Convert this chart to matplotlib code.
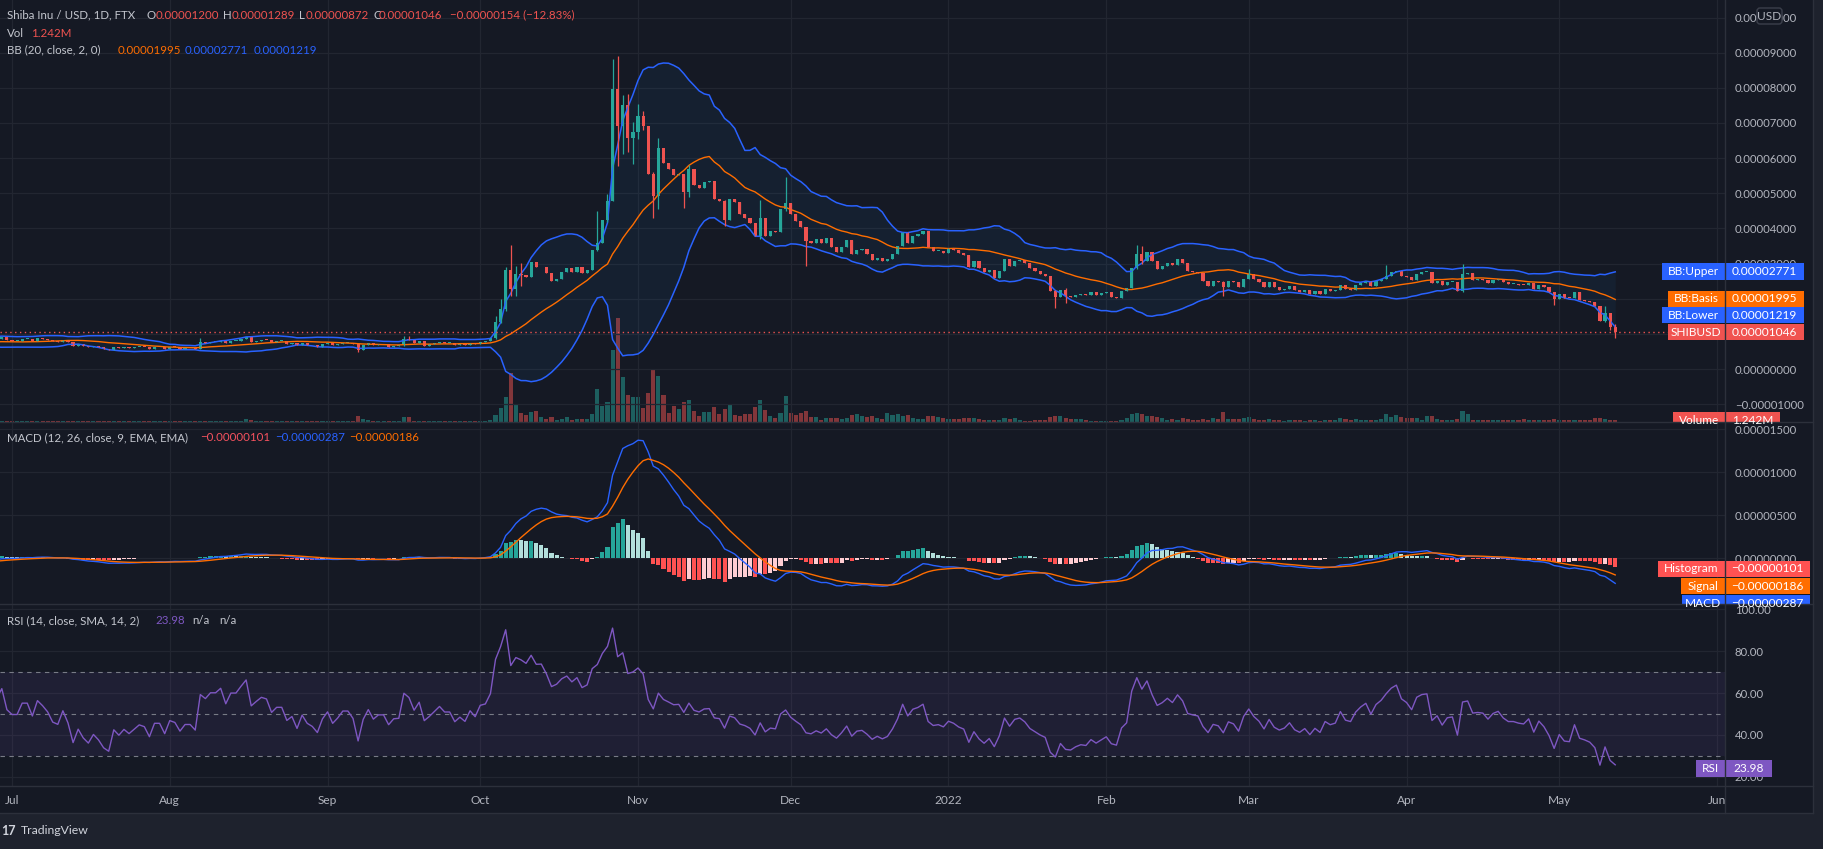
import numpy as np
import pandas as pd
import matplotlib
matplotlib.use("Agg")
import matplotlib.pyplot as plt
import matplotlib.dates as mdates
from matplotlib.patches import Rectangle, FancyBboxPatch

plt.rcParams['font.family'] = ['Lato', 'DejaVu Sans']

# SHIB/USD daily closes on FTX, in 1e-8 USD
# closes before the visible window, only used to warm up the indicators
warmup_close = [880, 860, 820, 790, 830, 850, 870, 900, 860, 830,
                850, 870, 890, 920, 900, 880, 870, 890, 880, 860,
                850, 870, 860, 840, 850, 830, 800, 780, 760, 740,
                730, 700, 650, 620, 660, 700, 760, 800, 830, 860]

# 2021-06-29 .. 2022-05-12
close = [905, 830, 810, 810, 857, 857, 810, 876, 857, 833,
         790, 780, 833, 780, 667, 724, 667, 630, 667, 630,
         571, 543, 638, 600, 628, 600, 620, 640, 630, 571,
         630, 630, 571, 630, 620, 571, 600, 600, 571, 760,
         740, 780, 780, 810, 740, 810, 810, 857, 905, 780,
         810, 838, 830, 760, 790, 790, 720, 740, 670, 740,
         690, 670, 630, 700, 740, 670, 700, 740, 740, 700,
         543, 670, 740, 670, 700, 700, 630, 667, 670, 857,
         830, 745, 810, 667, 700, 740, 780, 740, 740, 670,
         700, 670, 740, 700,
         780, 790, 870, 1340, 1710, 2810, 2280, 2710, 2670, 2610,
         3050, 2890, 2900, 2730, 2490, 2570, 2760, 2860, 2760, 2900,
         2730, 2810, 3400, 3590, 4230, 4790, 7970, 6910, 7510, 6560,
         6730, 7190, 6920, 5540, 4920, 6290, 5860, 5690, 5510, 5540,
         5040, 5690, 5240, 5140, 5330, 5350, 4830, 4790, 4230, 4850,
         4750, 4400, 4310, 4160, 3780, 4290, 3780, 3940, 3900, 4540,
         4730, 4400, 4210, 4040, 3640, 3590, 3690, 3590, 3720, 3470,
         3320, 3470, 3660, 3260, 3400, 3420, 3280, 3090, 3160, 3070,
         3120, 3280, 3510, 3900, 3590, 3780, 3830, 3920, 3470, 3350,
         3370, 3310, 3430, 3380, 3290, 3240, 2890, 3080, 2880, 2750,
         2830, 2590, 2780, 3140, 2930, 3080, 3110, 3020, 2860, 2780,
         2700, 2640, 2210, 2040, 2260, 2070, 2050, 2100, 2130, 2110,
         2190, 2110, 2150, 2190, 2050, 2020, 2230, 2300, 2880, 3260,
         3070, 3320, 3070, 2850, 2920, 3030, 2950, 3140, 3030, 2780,
         2750, 2730, 2510, 2370, 2510, 2480, 2330, 2510, 2470, 2320,
         2570, 2710, 2570, 2480, 2320, 2480, 2320, 2260, 2290, 2370,
         2240, 2190, 2240, 2130, 2210, 2140, 2280, 2230, 2250, 2400,
         2280, 2260, 2380, 2450, 2500, 2370, 2500, 2560, 2660, 2750,
         2800, 2660, 2620, 2540, 2710, 2750, 2760, 2450, 2510, 2380,
         2470, 2480, 2210, 2710, 2730, 2540, 2550, 2540, 2450, 2530,
         2560, 2470, 2420, 2420, 2400, 2390, 2440, 2280, 2390, 2320,
         2200, 1990, 2130, 2020, 2010, 2190, 1970, 1940, 1900, 1800,
         1380, 1590, 1200, 1046]

# daily volume, millions
volume = [1, 1, 0.15, 0.15, 0.15, 0.15, 0.15, 0.15, 0.15, 0.15,
          0.15, 0.15, 0.15, 0.15, 0.15, 0.15, 0.15, 0.15, 0.15, 0.15,
          0.15, 0.15, 0.15, 0.15, 0.15, 0.15, 0.15, 0.15, 0.15, 0.15,
          0.15, 0.15, 0.15, 0.15, 0.15, 0.15, 0.15, 0.15, 0.15, 1,
          1, 1, 1, 1, 1, 1, 1, 1, 3, 2,
          1, 1, 1, 1, 1, 1, 1, 1, 1, 1,
          0.15, 0.15, 1, 1, 1, 1, 1, 1, 1, 1,
          6, 3, 2, 1, 1, 1, 1, 1, 1, 5,
          5, 1, 1, 1, 1, 1, 1, 1, 0.15, 0.15,
          0.15, 0.15, 0.15, 0.15,
          1, 1, 2, 7, 14, 25, 49, 18, 9, 7,
          10, 11, 5, 3, 5, 2, 3, 5, 2, 3,
          3, 3, 8, 33, 16, 20, 72, 104, 45, 27,
          25, 25, 14, 29, 52, 46, 27, 9, 16, 13,
          20, 22, 11, 6, 10, 10, 15, 8, 13, 17,
          7, 6, 8, 8, 15, 22, 12, 6, 4, 9,
          26, 9, 7, 9, 11, 5, 5, 2, 4, 4,
          4, 3, 4, 7, 8, 6, 5, 6, 4, 3,
          9, 7, 8, 6, 7, 4, 3, 3, 6, 6,
          5, 4, 3, 3, 3, 4, 4, 4, 3, 2,
          2, 2, 2, 4, 3, 4, 2, 1, 1, 2,
          2, 2, 5, 6, 6, 4, 3, 3, 3, 2,
          1, 1, 1, 1, 1, 1, 2, 4, 8, 9,
          8, 6, 6, 5, 4, 2, 3, 2, 4, 3,
          2, 2, 3, 2, 4, 3, 10, 3, 3, 3,
          4, 5, 3, 2, 2, 3, 2, 2, 1, 2,
          2, 2, 1, 2, 2, 1, 2, 2, 2, 4,
          3, 2, 3, 2, 2, 2, 2, 3, 8, 5,
          7, 5, 4, 4, 4, 2, 6, 6, 3, 2,
          2, 2, 3, 11, 8, 2, 2, 2, 2, 2,
          2, 2, 2, 2, 2, 3, 2, 2, 2, 2,
          2, 3, 2, 2, 2, 2, 2, 2, 2, 4,
          4, 3, 2, 1.242]

# candles with a visible wick: index -> (high, low), 1e-8 USD
wicks = {39: (886, 565), 70: (720, 486), 79: (943, 660), 80: (943, 820),
         97: (1510, 860), 98: (2000, 1300), 99: (2890, 1650), 100: (3540, 2070),
         101: (2940, 2070), 102: (3020, 2370), 117: (4490, 3350), 119: (4970, 4180),
         120: (8830, 4790), 121: (8920, 5780), 122: (7800, 6110), 123: (7830, 6180),
         124: (7030, 5830), 125: (7540, 6550), 126: (7330, 6800), 128: (5600, 4310),
         129: (6570, 4540), 134: (5560, 4590), 135: (5800, 4890), 142: (4800, 4070),
         149: (4800, 3700), 154: (5450, 4500), 158: (4050, 2920), 207: (2250, 1730),
         209: (2300, 1880), 223: (3540, 2850), 224: (3490, 3000), 240: (2500, 2070),
         245: (2850, 2550), 272: (2970, 2550), 287: (3000, 2200), 305: (2200, 1830),
         315: (1800, 1350), 316: (1600, 1110), 317: (1289, 872)}

month_starts = ['2021-07-01', '2021-08-01', '2021-09-01', '2021-10-01', '2021-11-01', '2021-12-01',
                '2022-01-01', '2022-02-01', '2022-03-01', '2022-04-01', '2022-05-01', '2022-06-01']
month_labels = ['Jul', 'Aug', 'Sep', 'Oct', 'Nov', 'Dec', '2022', 'Feb', 'Mar', 'Apr', 'May', 'Jun']

assert len(close) == len(volume) == 318

E = 1e-8
W, H = 1823, 849
BG = '#151924'
OUTER = '#1e222d'
GRID = '#222631'
SEP = '#2c303b'
TXT = '#b2b5be'
UP, DOWN = '#26a69a', '#ef5350'
BLUE, ORANGE, PURPLE = '#2962ff', '#ff6d00', '#7e57c2'

# indicators
all_close = pd.Series(np.array(warmup_close + close, dtype=float) * E,
                      index=pd.date_range('2021-05-20', periods=len(warmup_close) + len(close), freq='D'))
basis = all_close.rolling(20).mean()
dev = all_close.rolling(20).std(ddof=0)
upper = basis + 2 * dev
lower = basis - 2 * dev

macd = all_close.ewm(span=12, adjust=False).mean() - all_close.ewm(span=26, adjust=False).mean()
signal = macd.ewm(span=9, adjust=False).mean()
hist = macd - signal

delta = all_close.diff()
up_avg = delta.clip(lower=0).ewm(alpha=1 / 14, adjust=False).mean()
dn_avg = (-delta.clip(upper=0)).ewm(alpha=1 / 14, adjust=False).mean()
rsi = 100 - 100 / (1 + up_avg / dn_avg)

xall = mdates.date2num(all_close.index)
n0 = len(warmup_close)
x = xall[n0:]
c = np.array(close, dtype=float) * E
o = np.r_[warmup_close[-1], close[:-1]] * E
hi = np.maximum(o, c)
lo = np.minimum(o, c)
for i, (h_, l_) in wicks.items():
    hi[i] = max(hi[i], h_ * E)
    lo[i] = min(lo[i], l_ * E)
rising = c >= o
ccol = np.where(rising, UP, DOWN)

# figure
fig = plt.figure(figsize=(W / 100, H / 100), dpi=100, facecolor=OUTER)
fig.patches.append(Rectangle((0, 1 - 813 / H), 1813 / W, 813 / H, transform=fig.transFigure,
                             facecolor=BG, edgecolor='none', zorder=-5))


def rect(x0, y0, x1, y1):
    return [x0 / W, 1 - y1 / H, (x1 - x0) / W, (y1 - y0) / H]


def ylim_from(v1, p1, v2, p2, top, bottom):
    k = (v1 - v2) / (p2 - p1)
    return v1 - (bottom - p1) * k, v1 + (p1 - top) * k


x0 = mdates.date2num(pd.Timestamp('2021-07-01')) - 2.358
x1 = mdates.date2num(pd.Timestamp('2021-07-01')) + 336.57
mx = mdates.date2num(pd.to_datetime(month_starts))

ax_vol = fig.add_axes(rect(0, 0, 1725, 421.6))
ax = fig.add_axes(rect(0, 0, 1725, 421.6))
ax_macd = fig.add_axes(rect(0, 422.6, 1725, 604))
ax_rsi = fig.add_axes(rect(0, 605, 1725, 786))

for a in (ax_vol, ax, ax_macd, ax_rsi):
    a.set_facecolor('none')
    for s in a.spines.values():
        s.set_visible(False)
    a.set_xlim(x0, x1)
    a.set_xticks(mx)
    a.tick_params(axis='x', length=0, labelbottom=False)
    a.yaxis.tick_right()
    a.tick_params(axis='y', length=0, pad=7, labelsize=8.2, labelcolor=TXT)
ax_vol.set_yticks([])
ax_vol.grid(False)
for a in (ax, ax_macd, ax_rsi):
    a.grid(True, color=GRID, lw=0.9)
    a.set_axisbelow(True)

# volume
vol_col = np.where(rising, '#26a69a80', '#ef535080')
ax_vol.bar(x, volume, width=0.8, color=vol_col, linewidth=0)
ax_vol.set_ylim(0, max(volume) * 4.05)

# price pane
ax.set_ylim(*ylim_from(9e-5, 52.7, 0, 369, 0, 421.6))
ax.set_yticks(np.arange(-1, 11) * 1e-5)
ax.yaxis.set_major_formatter(lambda v, p: f'{v:.8f}'.replace('-', '\u2212'))
ax.fill_between(xall, lower, upper, color='#2196f3', alpha=0.06, linewidth=0)
ax.plot(xall, upper, color=BLUE, lw=1.1)
ax.plot(xall, lower, color=BLUE, lw=1.1)
ax.plot(xall, basis, color=ORANGE, lw=1.0)
ax.vlines(x, lo, hi, colors=ccol, lw=0.9)
ax.bar(x, np.maximum(np.abs(c - o), 2.5e-7), bottom=np.minimum(o, c),
       width=0.62, color=ccol, linewidth=0)
ax.axhline(c[-1], color=DOWN, lw=1, ls=(0, (1, 2.5)))

# macd pane
ax_macd.set_ylim(*ylim_from(1.5e-5, 429.3, 0, 558.3, 422.6, 604))
ax_macd.set_yticks([0, 5e-6, 1e-5, 1.5e-5])
ax_macd.yaxis.set_major_formatter(lambda v, p: f'{v:.8f}')
hv = hist.values
prev = np.r_[np.nan, hv[:-1]]
hcol = np.where(hv >= 0, np.where(hv > prev, '#26a69a', '#b2dfdb'),
                np.where(hv > prev, '#ffcdd2', '#ff5252'))
ax_macd.bar(xall, hv, width=0.8, color=hcol, linewidth=0)
ax_macd.plot(xall, macd, color=BLUE, lw=1.0)
ax_macd.plot(xall, signal, color=ORANGE, lw=1.0)

# rsi pane
ax_rsi.set_ylim(*ylim_from(100, 609.3, 20, 776.7, 605, 786))
ax_rsi.set_yticks([20, 40, 60, 80, 100])
ax_rsi.yaxis.set_major_formatter(lambda v, p: f'{v:.2f}')
ax_rsi.axhspan(30, 70, color=PURPLE, alpha=0.1, lw=0)
for lvl in (30, 50, 70):
    ax_rsi.axhline(lvl, color='#787b86', lw=0.8, ls=(0, (4, 4)))
ax_rsi.plot(xall, rsi, color=PURPLE, lw=1.0)

# overlay in pixel coordinates for legends, tags and frame
ov = fig.add_axes([0, 0, 1, 1])
ov.set_xlim(0, W)
ov.set_ylim(H, 0)
ov.axis('off')
ov.set_zorder(10)


def ypix(a, v):
    return H - a.transData.transform((x0, v))[1]


def xpix(v):
    return ax.transData.transform((v, 0))[0]


for yy in (421.6, 604.3, 786, 813):
    ov.plot([0, 1813], [yy, yy], color=SEP, lw=1)
ov.plot([1725, 1725], [0, 813], color=SEP, lw=1)
ov.plot([1813, 1813], [0, 813], color=SEP, lw=1)

clip_x = Rectangle((0, 786), 1725, 27, transform=ov.transData)
for xm, lab in zip(mx, month_labels):
    t = ov.text(xpix(xm), 800, lab, ha='center', va='center', fontsize=8.6, color=TXT)
    t.set_clip_path(clip_x)


# legends
def seq(y, parts):
    for xx, s, col in parts:
        ov.text(xx, y, s, ha='left', va='center', fontsize=8.3, color=col)


LBL = '#c3c6ce'
seq(15, [(6.7, 'Shiba Inu / USD, 1D, FTX', LBL), (146.5, 'O', LBL), (155.5, '0.00001200', DOWN),
         (223, 'H', LBL), (232, '0.00001289', DOWN), (299.5, 'L', LBL), (305.5, '0.00000872', DOWN),
         (373, 'C', LBL), (379, '0.00001046', DOWN), (450, '\u22120.00000154 (\u221212.83%)', DOWN)])
seq(33, [(6.7, 'Vol', LBL), (31, '1.242M', DOWN)])
seq(50, [(6.7, 'BB (20, close, 2, 0)', LBL), (117.3, '0.00001995', ORANGE),
         (185, '0.00002771', BLUE), (254, '0.00001219', BLUE)])
seq(437.5, [(6.7, 'MACD (12, 26, close, 9, EMA, EMA)', LBL), (200, '\u22120.00000101', '#f7525f'),
            (275, '\u22120.00000287', BLUE), (349, '\u22120.00000186', ORANGE)])
seq(621, [(6.7, 'RSI (14, close, SMA, 14, 2)', LBL), (155.5, '23.98', PURPLE),
          (192.3, 'n/a', LBL), (219, 'n/a', LBL)])


def tag(y, label, lx, value, vw, color, clip=None):
    h = 16.5
    arts = [ov.add_patch(Rectangle((lx, y - h / 2), 1724.5 - lx, h, color=color, lw=0)),
            ov.text((lx + 1724.5) / 2, y, label, ha='center', va='center', fontsize=8.6, color='white'),
            ov.add_patch(Rectangle((1725.5, y - h / 2), vw, h, color=color, lw=0)),
            ov.text(1725.5 + vw / 2, y, value, ha='center', va='center', fontsize=8.6, color='white')]
    if clip is not None:
        for a_ in arts:
            a_.set_clip_path(clip)


y_up = ypix(ax, 2771e-8)
y_basis = ypix(ax, 1995e-8)
y_last = ypix(ax, 1046e-8)
y_low = min(ypix(ax, 1219e-8), y_last - 17)
tag(y_up, 'BB:Upper', 1662, '0.00002771', 78, BLUE)
tag(y_basis, 'BB:Basis', 1668, '0.00001995', 78, ORANGE)
tag(y_low, 'BB:Lower', 1662, '0.00001219', 78, BLUE)
tag(y_last, 'SHIBUSD', 1668, '0.00001046', 78, '#f05350')
tag(ypix(ax_vol, 1.242), 'Volume', 1673, '1.242M', 54, '#f05350',
    clip=Rectangle((0, 0), 1813, 421.6, transform=ov.transData))

y_h = max(ypix(ax_macd, -101e-8), 569)
y_s = max(ypix(ax_macd, -186e-8), y_h + 17.2)
y_m = max(ypix(ax_macd, -287e-8), y_s + 17.2)
clip_m = Rectangle((0, 422.6), 1813, 181.4, transform=ov.transData)
tag(y_h, 'Histogram', 1658, '\u22120.00000101', 84, '#ff5252', clip=clip_m)
tag(y_s, 'Signal', 1681, '\u22120.00000186', 84, ORANGE, clip=clip_m)
tag(y_m, 'MACD', 1682, '\u22120.00000287', 84, BLUE, clip=clip_m)
tag(ypix(ax_rsi, 23.98), 'RSI', 1696, '23.98', 46, PURPLE)

ov.add_patch(FancyBboxPatch((1757, 8), 25, 16, boxstyle='round,pad=0,rounding_size=3',
                            facecolor=BG, edgecolor='#3b3f4b', lw=1))
ov.text(1769.5, 16, 'USD', ha='center', va='center', fontsize=8.6, color=TXT)

ov.text(1, 831, '17', ha='left', va='center', fontsize=9, fontweight='bold', color='#d1d4dc')
ov.text(21, 831, 'TradingView', ha='left', va='center', fontsize=8.8, color='#d1d4dc')

fig.savefig('out.png', dpi=100, facecolor=OUTER)
